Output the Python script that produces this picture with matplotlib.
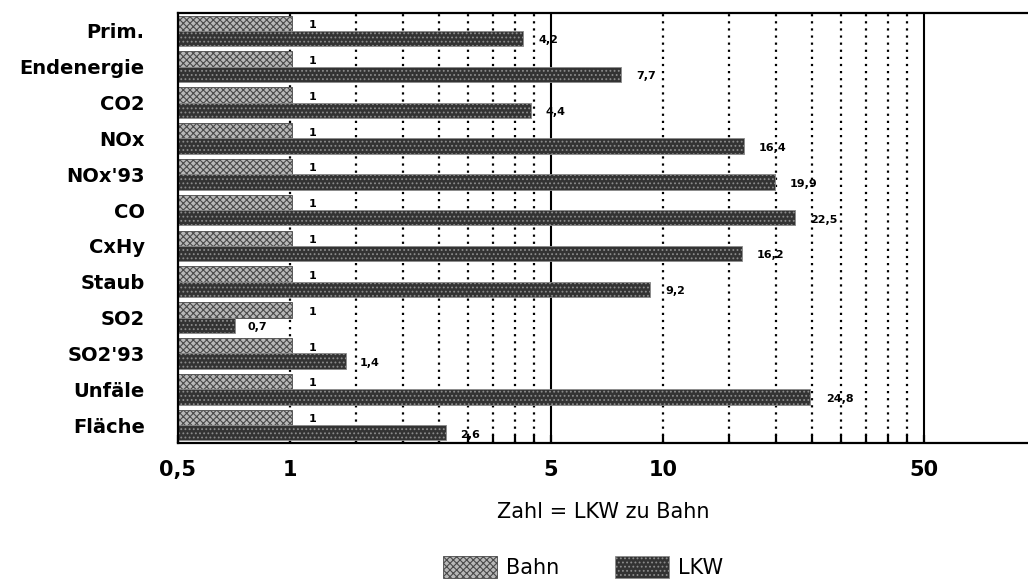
import matplotlib.pyplot as plt
import matplotlib.patches as mpatches
import numpy as np

plt.rcParams.update({
    'font.family': 'DejaVu Sans',
    'hatch.linewidth': 0.8,
})

categories = ["Prim.", "Endenergie", "CO2", "NOx", "NOx'93", "CO", "CxHy",
              "Staub", "SO2", "SO2'93", "Unfäle", "Fläche"]
bahn = [1, 1, 1, 1, 1, 1, 1, 1, 1, 1, 1, 1]
lkw = [4.2, 7.7, 4.4, 16.4, 19.9, 22.5, 16.2, 9.2, 0.7, 1.4, 24.8, 2.6]

major_ticks = [0.5, 1, 5, 10, 50]
major_labels = ["0,5", "1", "5", "10", "50"]
dotted_grid = [1, 1.5, 2, 2.5, 3, 3.5, 4, 4.5, 10, 15, 20, 25, 30, 35, 40, 45]
solid_grid = [5, 50]

bahn_style = dict(facecolor="#b8b8b8", edgecolor="#4a4a4a", hatch="xxxxx", linewidth=0.6)
lkw_style = dict(facecolor="#333333", edgecolor="#8c8c8c", hatch="....", linewidth=0.6)

fig = plt.figure(figsize=(10.28, 5.83), dpi=100)
ax = fig.add_axes([178 / 1028, 1 - 443 / 583, 1 - 178 / 1028, (443 - 13) / 583])

y = np.arange(len(categories))
h = 0.43

for g in dotted_grid:
    ax.axvline(g, color="black", linestyle=(0, (1, 2.2)), linewidth=1.6, zorder=1)
for g in solid_grid:
    ax.axvline(g, color="black", linewidth=1.5, zorder=1)

ax.barh(y - h / 2, bahn, height=h, left=0.01, zorder=2, **bahn_style)
ax.barh(y + h / 2, lkw, height=h, left=0.01, zorder=2, **lkw_style)

for yi, v in zip(y, bahn):
    ax.annotate(f"{v}", (v, yi - h / 2 + 0.05), xytext=(13, 0), textcoords="offset points",
                ha="left", va="center", fontsize=8, fontweight="bold")
for yi, v in zip(y, lkw):
    ax.annotate(f"{v}".replace(".", ","), (v, yi + h / 2 + 0.05), xytext=(11, 0),
                textcoords="offset points", ha="left", va="center",
                fontsize=8, fontweight="bold")

ax.set_xscale("log")
ax.set_xlim(0.5, 0.5 * 10 ** ((1028 - 178) / 373))
ax.set_ylim(len(categories) - 0.5, -0.5)

ax.set_xticks(major_ticks)
ax.set_xticklabels(major_labels, fontsize=15, fontweight="bold")
ax.set_xticks(dotted_grid, minor=True)
ax.set_xticklabels([], minor=True)
ax.tick_params(axis="x", which="both", direction="in", length=6, width=1.6, pad=12)

ax.set_yticks(y)
ax.set_yticklabels(categories, fontsize=14, fontweight="bold")
ax.tick_params(axis="y", length=0, pad=24)

for s in ["top", "left", "bottom"]:
    ax.spines[s].set_linewidth(1.6)
ax.spines["right"].set_visible(False)

ax.set_xlabel("Zahl = LKW zu Bahn", fontsize=15, labelpad=16)

handles = [
    mpatches.Patch(label="Bahn", **bahn_style),
    mpatches.Patch(label="LKW", **lkw_style),
]
fig.legend(handles=handles, loc="center", bbox_to_anchor=(583 / 1028, 1 - 567 / 583),
           ncol=2, frameon=False, fontsize=15, handlelength=2.6, handleheight=1.3,
           handletextpad=0.4, columnspacing=2.7)

fig.savefig("out.png", dpi=100)
